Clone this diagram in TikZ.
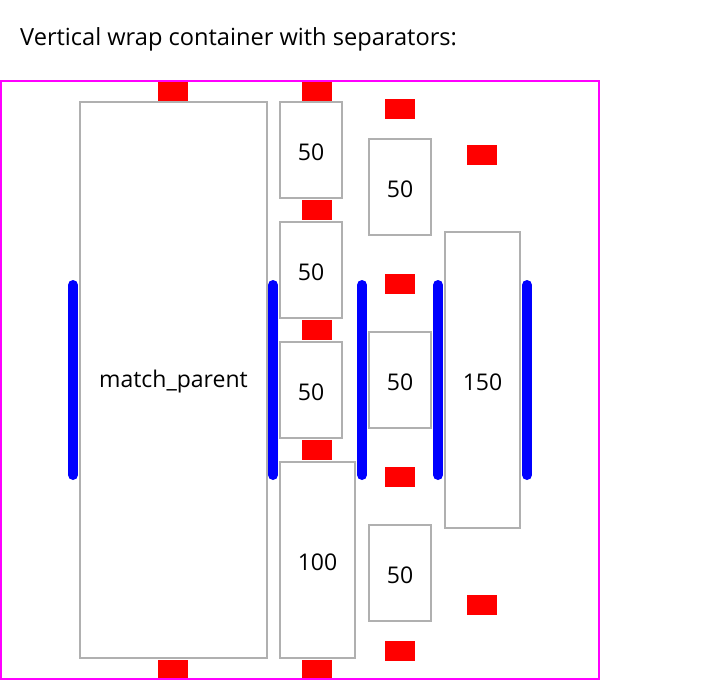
\documentclass[tikz,border=0pt]{standalone}
\usepackage{fontspec}
\setmainfont{Open Sans}
\definecolor{boxgray}{RGB}{176,176,176}
\definecolor{sepred}{RGB}{255,0,0}
\definecolor{sepblue}{RGB}{0,0,255}
\definecolor{frame}{RGB}{255,0,255}
\tikzset{
  item/.style={draw=boxgray, line width=2pt},
  redsep/.style={fill=sepred},
  bluesep/.style={draw=sepblue, line width=10pt, line cap=round},
  lbl/.style={font=\fontsize{23}{27}\selectfont, text=black, inner sep=0pt, yshift=-2pt},
}
\begin{document}
\begin{tikzpicture}[x=1pt,y=-1pt]
\useasboundingbox (0,0) rectangle (720,680);
\node[lbl, anchor=west, font=\fontsize{23.6}{28}\selectfont, yshift=-1pt] (title) at (20,36) {Vertical wrap container with separators:};
% red separators
\foreach \x/\y in {158/81,158/660,302/81,302/200,302/320,302/440,302/660,385/99,385/274,385/467,385/641,467/145,467/595}
  \path[redsep] (\x,\y) rectangle ++(30,20);
% items
\draw[item] (80,102) rectangle (267,658) node[pos=.5, lbl] (mp) {match\_parent};
\draw[item] (280,102) rectangle (342,198) node[pos=.5, lbl] (a1) {50};
\draw[item] (280,222) rectangle (342,318) node[pos=.5, lbl] (a2) {50};
\draw[item] (280,342) rectangle (342,438) node[pos=.5, lbl] (a3) {50};
\draw[item] (280,462) rectangle (355,658) node[pos=.5, lbl] (a4) {100};
\draw[item] (369,139) rectangle (431,235) node[pos=.5, lbl] (b1) {50};
\draw[item] (369,332) rectangle (431,428) node[pos=.5, lbl] (b2) {50};
\draw[item] (369,525) rectangle (431,621) node[pos=.5, lbl] (b3) {50};
\draw[item] (445,232) rectangle (520,528) node[pos=.5, lbl] (c1) {150};
% blue separators
\foreach \x in {73,273,362,438,527}
  \draw[bluesep] (\x,285) -- (\x,475);
% frame
\draw[draw=frame, line width=2pt] (1,81) rectangle (599,679);
\end{tikzpicture}
\end{document}
